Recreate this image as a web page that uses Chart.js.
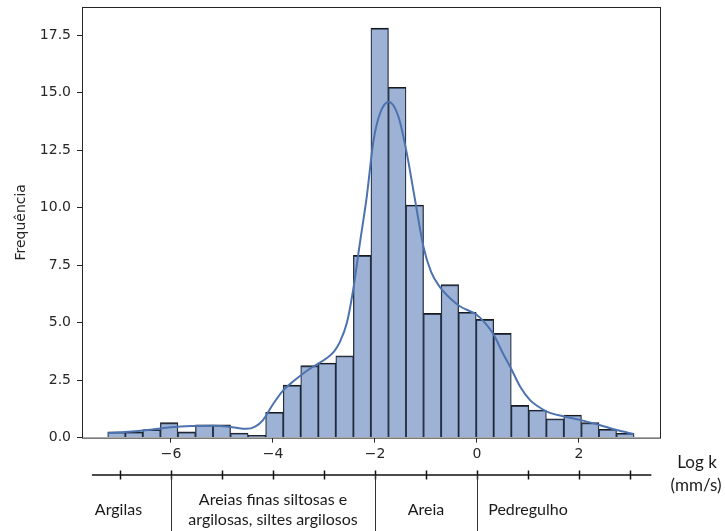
<!DOCTYPE html>
<html>
<head>
<meta charset="utf-8">
<script src="https://cdn.jsdelivr.net/npm/chart.js@4.4.1/dist/chart.umd.min.js"></script>
<style>
  html, body { margin: 0; padding: 0; background: #fff; }
  #wrap { width: 725px; height: 531px; position: relative; }
</style>
</head>
<body>
<div id="wrap"><canvas id="histChart" width="725" height="531"></canvas></div>
<script>
// Centros das classes do histograma (Log k)
const binCenters = [-7.068, -6.724, -6.380, -6.036, -5.692, -5.348, -5.004, -4.660, -4.316, -3.972,
  -3.628, -3.284, -2.940, -2.596, -2.252, -1.908, -1.564, -1.220, -0.876, -0.532,
  -0.188, 0.156, 0.500, 0.844, 1.188, 1.532, 1.876, 2.220, 2.564, 2.908];
// Frequência de cada classe
const binCounts = [0.25, 0.25, 0.35, 0.65, 0.25, 0.55, 0.55, 0.20, 0.10, 1.10,
  2.28, 3.13, 3.24, 3.56, 7.92, 17.80, 15.23, 10.11, 5.40, 6.65,
  5.45, 5.14, 4.53, 1.40, 1.20, 0.82, 0.98, 0.65, 0.36, 0.19];

// Curva de densidade (KDE)
const kdeX = [-7.24, -6.9, -6.54, -6.2, -6.0, -5.6, -5.17, -4.8, -4.52, -4.35, -4.2, -4.0,
  -3.8, -3.6, -3.4, -3.2, -2.95, -2.8, -2.69, -2.55, -2.43, -2.3, -2.16, -2.03, -1.9,
  -1.73, -1.54, -1.38, -1.22, -1.05, -0.9, -0.73, -0.5, -0.33, 0.0, 0.15, 0.32, 0.5,
  0.68, 0.85, 1.04, 1.2, 1.37, 1.7, 2.02, 2.4, 2.74, 3.07];
const kdeY = [0.19, 0.24, 0.31, 0.40, 0.45, 0.50, 0.51, 0.45, 0.38, 0.48, 0.75, 1.45,
  2.05, 2.45, 2.80, 3.10, 3.45, 3.75, 4.15, 5.0, 6.4, 8.4, 10.5, 12.9, 14.1,
  14.6, 13.95, 12.4, 10.4, 8.3, 7.2, 6.55, 6.0, 5.7, 5.33, 5.0, 4.5, 3.7,
  2.95, 2.2, 1.63, 1.35, 1.13, 0.92, 0.77, 0.55, 0.33, 0.16];

// Marcas dos eixos
const xTicks = [-6, -4, -2, 0, 2];
const yTicks = [0, 2.5, 5, 7.5, 10, 12.5, 15, 17.5];

// Régua de classificação abaixo do gráfico
const rulerTicks = [-7, -6, -5, -4, -3, -2, -1, 0, 1, 2, 3];
const rulerSeparators = [-6, -2, 0];
const zoneNames = [["Argilas"], ["Areias finas siltosas e", "argilosas, siltes argilosos"], ["Areia"], ["Pedregulho"]];
const zoneCenters = [-7.03, -4.0, -1.0, 1.0];
const unitLabel = ["Log k", "(mm/s)"];

const tickFont = { family: "DejaVu Sans", size: 14 };
const textColor = "#262626";

// Moldura do gráfico e régua inferior
const framePlugin = {
  id: "frame",
  afterDraw(chart) {
    const { ctx, chartArea: a, scales } = chart;
    const xs = scales.x;
    ctx.save();
    ctx.strokeStyle = "#262626";
    ctx.lineWidth = 1;
    ctx.strokeRect(a.left + 0.5, a.top + 0.5, a.right - a.left - 1, a.bottom - a.top);

    // régua
    const yLine = 475;
    ctx.strokeStyle = "#111";
    ctx.lineWidth = 1.5;
    ctx.beginPath();
    ctx.moveTo(xs.getPixelForValue(-7.55), yLine);
    ctx.lineTo(xs.getPixelForValue(3.42), yLine);
    rulerTicks.forEach((v) => {
      const px = Math.round(xs.getPixelForValue(v)) + 0.5;
      ctx.moveTo(px, yLine - 4.5);
      ctx.lineTo(px, yLine + 4.5);
    });
    ctx.stroke();

    ctx.lineWidth = 1;
    ctx.strokeStyle = "#333";
    ctx.beginPath();
    rulerSeparators.forEach((v) => {
      const px = Math.round(xs.getPixelForValue(v)) + 0.5;
      ctx.moveTo(px, yLine);
      ctx.lineTo(px, 531);
    });
    ctx.stroke();

    ctx.fillStyle = "#1a1a1a";
    ctx.font = "16px Lato";
    ctx.textAlign = "center";
    ctx.textBaseline = "middle";
    zoneNames.forEach((lines, i) => {
      const px = xs.getPixelForValue(zoneCenters[i]);
      if (lines.length === 1) {
        ctx.fillText(lines[0], px, 510);
      } else {
        ctx.fillText(lines[0], px, 500);
        ctx.fillText(lines[1], px, 520);
      }
    });

    ctx.font = "17px Lato";
    ctx.fillText(unitLabel[0], 697, 463);
    ctx.fillText(unitLabel[1], 696, 486);
    ctx.restore();
  },
};

const ctx = document.getElementById("histChart");
new Chart(ctx, {
  type: "bar",
  data: {
    datasets: [
      {
        type: "line",
        data: kdeX.map((x, i) => ({ x: x, y: kdeY[i] })),
        borderColor: "#4c72b0",
        borderWidth: 2,
        pointRadius: 0,
        fill: false,
        cubicInterpolationMode: "monotone",
        order: 0,
      },
      {
        type: "bar",
        data: binCenters.map((x, i) => ({ x: x, y: binCounts[i] })),
        backgroundColor: "rgba(76, 114, 176, 0.55)",
        borderColor: "#1a1a1a",
        borderWidth: { top: 1.2, left: 0.7, right: 0.7, bottom: 0 },
        borderSkipped: false,
        barPercentage: 1,
        categoryPercentage: 1,
        order: 1,
      },
    ],
  },
  options: {
    responsive: false,
    animation: false,
    layout: { padding: { left: 0, top: 7, right: 64, bottom: 63.4 } },
    plugins: {
      legend: { display: false },
      tooltip: { enabled: false },
    },
    scales: {
      x: {
        type: "linear",
        min: -7.745,
        max: 3.608,
        offset: false,
        border: { display: false },
        grid: { drawOnChartArea: false, offset: false, tickLength: 5, color: "#262626" },
        afterBuildTicks: (s) => { s.ticks = xTicks.map((v) => ({ value: v })); },
        afterFit: (s) => { s.height = 30; s.paddingLeft = 0; s.paddingRight = 0; },
        ticks: {
          color: textColor,
          font: tickFont,
          padding: 3,
          maxRotation: 0,
          callback: (v) => (v < 0 ? "\u2212" + Math.abs(v) : String(v)),
        },
      },
      y: {
        min: 0,
        max: 18.72,
        border: { display: false },
        grid: { drawOnChartArea: false, tickLength: 5, color: "#262626" },
        afterBuildTicks: (s) => { s.ticks = yTicks.map((v) => ({ value: v })); },
        afterFit: (s) => { s.width = 82; s.paddingTop = 0; s.paddingBottom = 0; },
        ticks: {
          color: textColor,
          font: tickFont,
          padding: 6,
          callback: (v) => v.toFixed(1),
        },
        title: {
          display: true,
          text: "Frequência",
          color: textColor,
          font: { family: "DejaVu Sans", size: 14 },
          padding: { top: 13, bottom: 0 },
        },
      },
    },
  },
  plugins: [framePlugin],
});
</script>
</body>
</html>
